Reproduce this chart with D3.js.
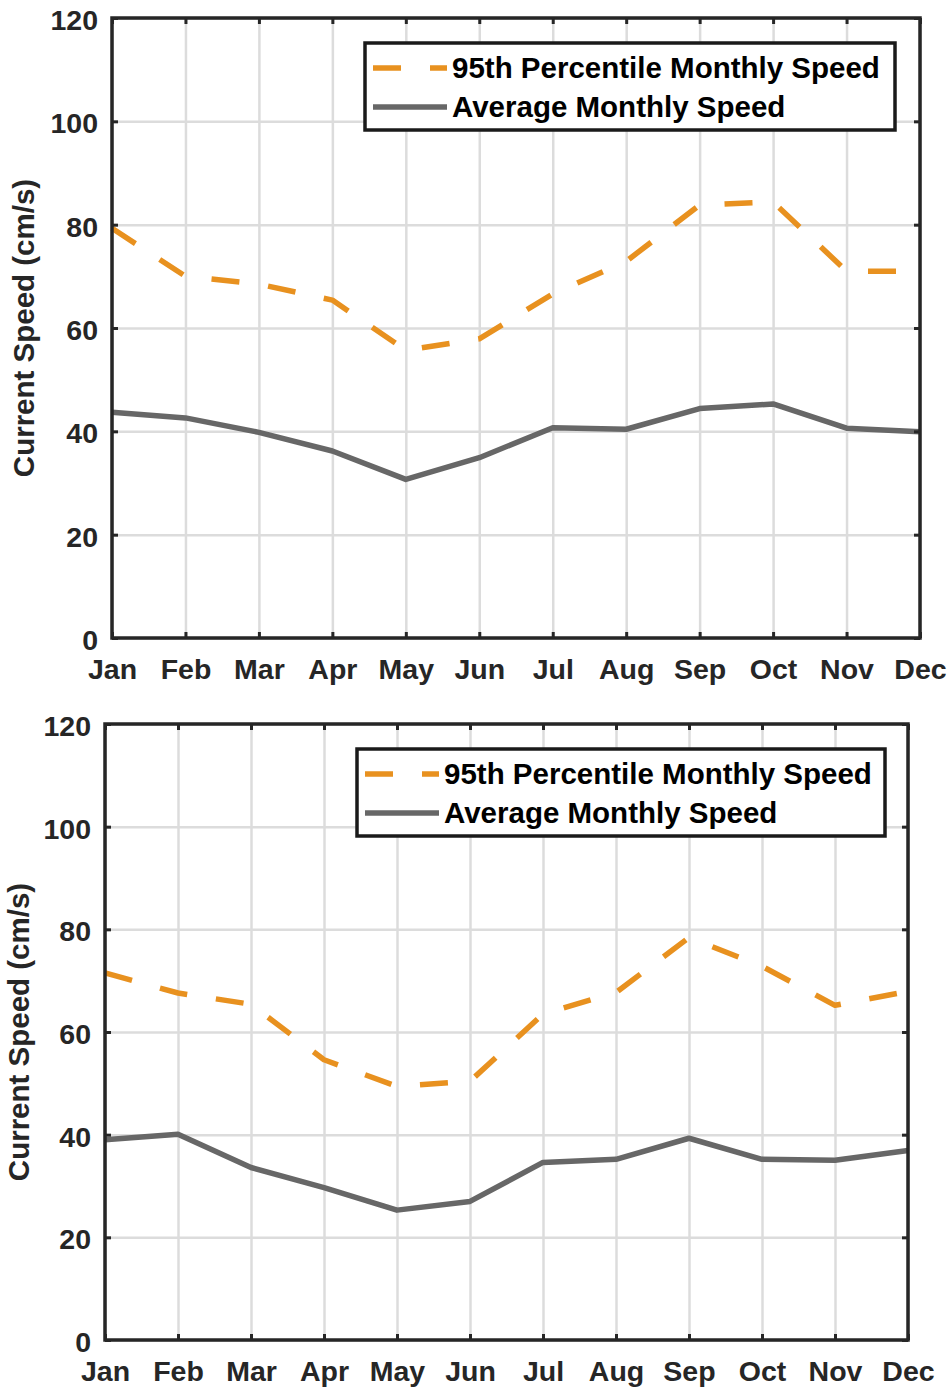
<!DOCTYPE html>
<html>
<head>
<meta charset="utf-8">
<script src="https://cdn.jsdelivr.net/npm/d3@7"></script>
<style>
  body { margin: 0; background: #fff; }
  svg { display: block; font-family: 'Liberation Sans', Arial, sans-serif; font-weight: bold; }
</style>
</head>
<body>
<svg id="chart" width="947" height="1389"></svg>
<script>

var months = ['Jan', 'Feb', 'Mar', 'Apr', 'May', 'Jun', 'Jul', 'Aug', 'Sep', 'Oct', 'Nov', 'Dec'];
var yTicks = [0, 20, 40, 60, 80, 100, 120];
var seriesNames = ['95th Percentile Monthly Speed', 'Average Monthly Speed'];
var yTitle = 'Current Speed (cm/s)';

// upper panel
var upper95 = [79.3, 70.0, 68.5, 65.4, 55.7, 57.9, 66.6, 72.9, 83.8, 84.4, 71.0, 71.0];
var upperAvg = [43.7, 42.6, 39.8, 36.2, 30.7, 34.9, 40.7, 40.4, 44.4, 45.3, 40.6, 39.9];

// lower panel
var lower95 = [71.5, 67.6, 65.4, 54.6, 49.4, 50.4, 63.5, 67.7, 78.4, 72.8, 65.2, 67.9];
var lowerAvg = [39.0, 40.1, 33.6, 29.7, 25.3, 27.0, 34.6, 35.2, 39.3, 35.2, 35.0, 36.9];

var styles = [
  { color: '#e8911f', width: 5.5, dash: '28,29' },
  { color: '#676767', width: 5.5, dash: null }
];

function drawChart( svg, series, settings ) {

  var w = settings.right - settings.left;
  var h = settings.bottom - settings.top;

  var g = svg.append('g')
    .attr('transform', 'translate(' + settings.left + ',' + settings.top + ')');

  var scaleX = d3.scalePoint()
    .domain( months )
    .range([ 0, w ]);

  var scaleY = d3.scaleLinear()
    .domain([ 0, 120 ])
    .range([ h, 0 ]);

  // grid
  var gridX = g.append('g')
    .call( d3.axisBottom( scaleX ).tickSize( h ).tickFormat('') );
  var gridY = g.append('g')
    .call( d3.axisLeft( scaleY ).tickValues( yTicks ).tickSize( -w ).tickFormat('') );
  g.selectAll('.domain').remove();
  gridX.selectAll('.tick line').attr('stroke', '#dcdcdc').attr('stroke-width', 2.5);
  gridY.selectAll('.tick line').attr('stroke', '#dcdcdc').attr('stroke-width', 2.5);

  // lines
  var line = d3.line()
    .x( function( d, i ) { return scaleX( months[i] ) })
    .y( function( d ) { return scaleY( d ) });

  series.forEach( function( vals, k ) {
    g.append('path')
      .datum( vals )
      .attr('d', line )
      .attr('fill', 'none')
      .attr('stroke', styles[k].color )
      .attr('stroke-width', styles[k].width )
      .attr('stroke-dasharray', styles[k].dash )
      .attr('stroke-linejoin', 'round');
  });

  // box
  g.append('rect')
    .attr('width', w )
    .attr('height', h )
    .attr('fill', 'none')
    .attr('stroke', '#262626')
    .attr('stroke-width', 3.5);

  var axisL = g.append('g')
    .call( d3.axisLeft( scaleY ).tickValues( yTicks ).tickSize( -6 ).tickPadding( 14 ) );
  var axisB = g.append('g')
    .attr('transform', 'translate(0,' + h + ')')
    .call( d3.axisBottom( scaleX ).tickSize( -6 ) );
  var axisT = g.append('g')
    .call( d3.axisTop( scaleX ).tickSize( -6 ).tickFormat('') );
  var axisR = g.append('g')
    .attr('transform', 'translate(' + w + ',0)')
    .call( d3.axisRight( scaleY ).tickValues( yTicks ).tickSize( -6 ).tickFormat('') );

  [ axisL, axisB, axisT, axisR ].forEach( function( a ) {
    a.select('.domain').remove();
    a.selectAll('.tick line').attr('stroke', '#262626').attr('stroke-width', 3);
  });

  axisL.selectAll('.tick text')
    .attr('fill', '#262626')
    .attr('font-size', 28.5)
    .attr('font-family', null)
    .attr('dy', '0.4em');

  axisB.selectAll('.tick text')
    .attr('fill', '#262626')
    .attr('font-size', 28.5)
    .attr('font-family', null)
    .attr('y', 41)
    .attr('dy', 0);

  // y title
  g.append('text')
    .attr('transform', 'translate(' + ( -settings.titleOffset ) + ',' + h / 2 + ') rotate(-90)')
    .attr('text-anchor', 'middle')
    .attr('font-size', 29.5)
    .attr('fill', '#262626')
    .text( yTitle );

  // legend
  var legend = g.append('g')
    .attr('transform', 'translate(' + ( w - settings.legendRight - settings.legendWidth ) + ',' + settings.legendTop + ')');

  legend.append('rect')
    .attr('width', settings.legendWidth )
    .attr('height', 87 )
    .attr('fill', '#fff')
    .attr('stroke', '#1a1a1a')
    .attr('stroke-width', 3.5);

  seriesNames.forEach( function( name, k ) {
    var ly = 25 + k * 39;
    legend.append('line')
      .attr('x1', 8 )
      .attr('x2', 82 )
      .attr('y1', ly )
      .attr('y2', ly )
      .attr('stroke', styles[k].color )
      .attr('stroke-width', styles[k].width )
      .attr('stroke-dasharray', styles[k].dash );
    legend.append('text')
      .attr('x', 87 )
      .attr('y', ly + 10 )
      .attr('font-size', 29.5)
      .attr('fill', '#000')
      .text( name );
  });
}

var svg = d3.select('#chart');

drawChart( svg, [ upper95, upperAvg ], {
  left: 112, top: 18, right: 920, bottom: 638,
  titleOffset: 78, legendTop: 25, legendRight: 25, legendWidth: 530
});

drawChart( svg, [ lower95, lowerAvg ], {
  left: 105, top: 724, right: 908, bottom: 1340,
  titleOffset: 76, legendTop: 25, legendRight: 23, legendWidth: 528
});

</script>
</body>
</html>
